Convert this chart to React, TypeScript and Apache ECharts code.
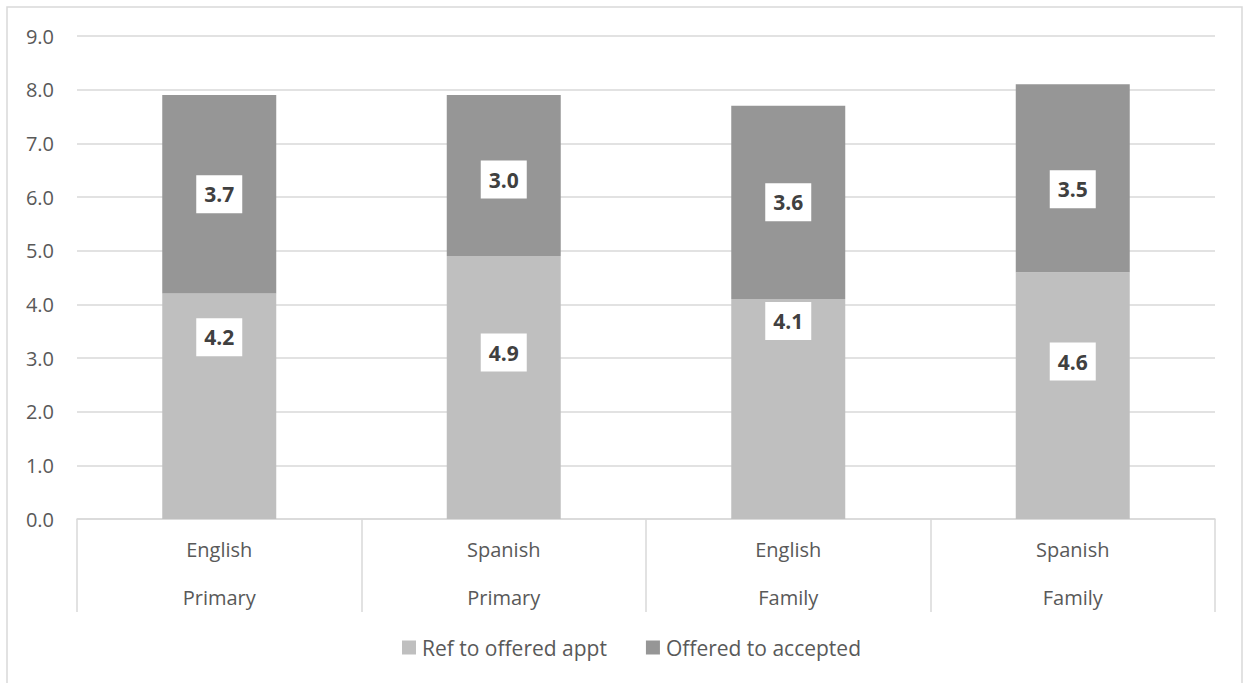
import React, { useEffect, useRef } from "react";
import * as echarts from "echarts";

// Language / clinic type groups
const languages = ["English", "Spanish", "English", "Spanish"];
const clinicTypes = ["Primary", "Primary", "Family", "Family"];

// Average days per stage
const refToOffered = [4.2, 4.9, 4.1, 4.6];
const offeredToAccepted = [3.7, 3.0, 3.6, 3.5];

const yTicks = [0, 1, 2, 3, 4, 5, 6, 7, 8, 9];

// Vertical nudges (px) for the value boxes
const lowerLabelShift = [-69, -35, -88, -34];
const upperLabelShift = [0, 4, 0, 11];

const FONT = "'Open Sans', 'Noto Sans', sans-serif";
const TEXT = "#595959";
const LINE = "#D9D9D9";

const boxLabel = {
  show: true,
  position: "inside" as const,
  backgroundColor: "#ffffff",
  color: "#404040",
  fontFamily: FONT,
  fontWeight: "bold" as const,
  fontSize: 21,
  lineHeight: 21,
  padding: [9, 8, 8, 8],
  formatter: (p: any) => Number(p.value).toFixed(1),
};

export default function App() {
  const ref = useRef<HTMLDivElement>(null);

  useEffect(() => {
    if (!ref.current) return;
    const chart = echarts.init(ref.current, null, { renderer: "svg" });
    const categories = languages.map((l, i) => `${l}\n${clinicTypes[i]}`);

    chart.setOption({
      animation: false,
      backgroundColor: "#ffffff",
      textStyle: { fontFamily: FONT },
      graphic: [
        {
          type: "rect",
          shape: { x: 7, y: 7, width: 1235, height: 720 },
          style: { fill: "none", stroke: LINE, lineWidth: 1.5 },
          silent: true,
        },
      ],
      grid: { left: 77, right: 29, top: 36, bottom: 164, containLabel: false },
      legend: {
        top: 632,
        left: 397,
        itemWidth: 14,
        itemHeight: 14,
        itemGap: 39,
        icon: "rect",
        textStyle: { color: TEXT, fontSize: 21, fontFamily: FONT, padding: [0, 0, 0, 1] },
        data: ["Ref to offered appt", "Offered to accepted"],
      },
      xAxis: {
        type: "category",
        data: categories,
        axisLine: { show: true, lineStyle: { color: LINE, width: 1.5 } },
        axisTick: {
          show: true,
          interval: 0,
          length: 93,
          lineStyle: { color: LINE, width: 1.5 },
        },
        axisLabel: {
          interval: 0,
          color: TEXT,
          fontSize: 20,
          fontFamily: FONT,
          lineHeight: 48,
          margin: 6,
        },
      },
      yAxis: {
        type: "value",
        min: 0,
        max: yTicks[yTicks.length - 1],
        interval: 1,
        axisLine: { show: false },
        axisTick: { show: false },
        splitLine: { lineStyle: { color: LINE, width: 1.5 } },
        axisLabel: {
          color: TEXT,
          fontSize: 20,
          fontFamily: FONT,
          margin: 23,
          formatter: (v: number) => v.toFixed(1),
        },
      },
      series: [
        {
          name: "Ref to offered appt",
          type: "bar",
          stack: "total",
          barWidth: 114,
          itemStyle: { color: "#BFBFBF" },
          data: refToOffered.map((v, i) => ({
            value: v,
            label: { ...boxLabel, offset: [0, lowerLabelShift[i]] },
          })),
        },
        {
          name: "Offered to accepted",
          type: "bar",
          stack: "total",
          barWidth: 114,
          itemStyle: { color: "#969696" },
          data: offeredToAccepted.map((v, i) => ({
            value: v,
            label: { ...boxLabel, offset: [0, upperLabelShift[i]] },
          })),
        },
      ],
    });

    return () => chart.dispose();
  }, []);

  return (
    <div
      ref={ref}
      style={{ position: "absolute", left: 0, top: 0, width: 1244, height: 683 }}
    />
  );
}
